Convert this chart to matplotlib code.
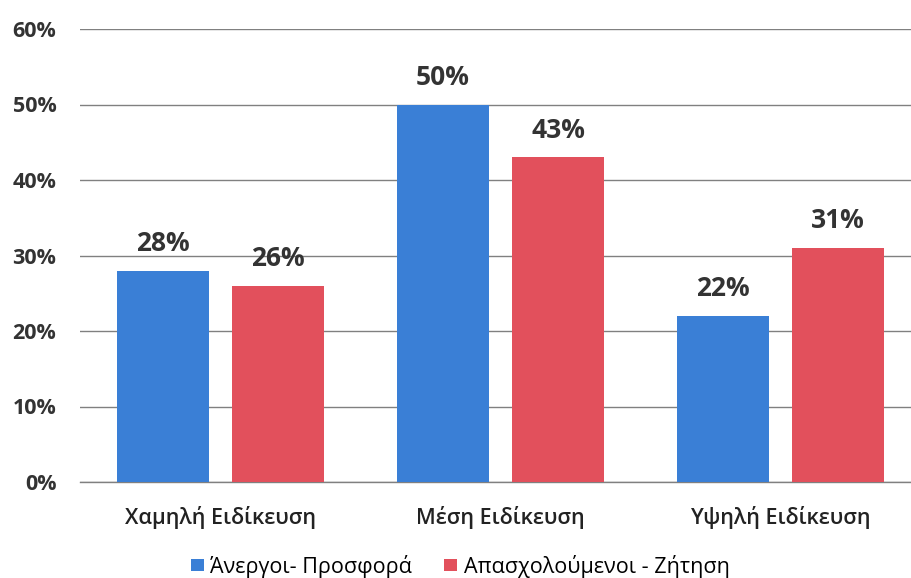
import numpy as np
import matplotlib
matplotlib.use("Agg")
import matplotlib.pyplot as plt
from matplotlib.ticker import FuncFormatter

categories = ["Χαμηλή Ειδίκευση", "Μέση Ειδίκευση", "Υψηλή Ειδίκευση"]
unemployed = [28, 50, 22]   # Άνεργοι- Προσφορά
employed = [26, 43, 31]     # Απασχολούμενοι - Ζήτηση
series_names = ["Άνεργοι- Προσφορά", "Απασχολούμενοι - Ζήτηση"]
yticks = [0, 10, 20, 30, 40, 50, 60]

plt.rcParams["font.family"] = ["Open Sans", "DejaVu Sans"]

BLUE = "#3a7fd6"
RED = "#e2505c"

fig = plt.figure(figsize=(9.11, 5.78), dpi=100)
ax = fig.add_axes([80 / 911, 1 - 482 / 578, 1 - 80 / 911, (482 - 29) / 578])

x = np.arange(len(categories))
w = 0.33
off = 0.206
b1 = ax.bar(x - off, unemployed, w, color=BLUE, label=series_names[0], zorder=3)
b2 = ax.bar(x + off, employed, w, color=RED, label=series_names[1], zorder=3)

for bars, vals in [(b1, unemployed), (b2, employed)]:
    for b, v in zip(bars, vals):
        ax.text(b.get_x() + b.get_width() / 2, v + 1.8, f"{v}%", ha="center", va="bottom",
                fontsize=19, fontweight="bold", color="#333333")

ax.set_ylim(0, 60)
ax.set_xlim(-0.502, 2.466)
ax.set_yticks(yticks)
ax.yaxis.set_major_formatter(FuncFormatter(lambda v, p: f"{int(v)}%"))
ax.set_xticks(x)
ax.set_xticklabels(categories)
ax.tick_params(axis="y", length=0, pad=17, labelsize=15.5, labelcolor="#333333")
ax.tick_params(axis="x", length=0, pad=17, labelsize=15.5, labelcolor="#222222")
for lab in ax.get_yticklabels():
    lab.set_fontweight("bold")
for lab in ax.get_xticklabels():
    lab.set_fontweight(600)

ax.grid(axis="y", color="#808080", linewidth=1.0, zorder=0)
for s in ["top", "right", "left"]:
    ax.spines[s].set_visible(False)
ax.spines["bottom"].set_color("#808080")
ax.spines["bottom"].set_linewidth(1.0)

fig.legend(handles=[b1, b2], labels=series_names, loc="center",
           bbox_to_anchor=(460 / 911, 1 - 566 / 578), ncol=2, frameon=False,
           fontsize=15.5, handlelength=0.6, handleheight=0.45, handletextpad=0.3,
           columnspacing=1.5)

fig.savefig("out.png", dpi=100)
